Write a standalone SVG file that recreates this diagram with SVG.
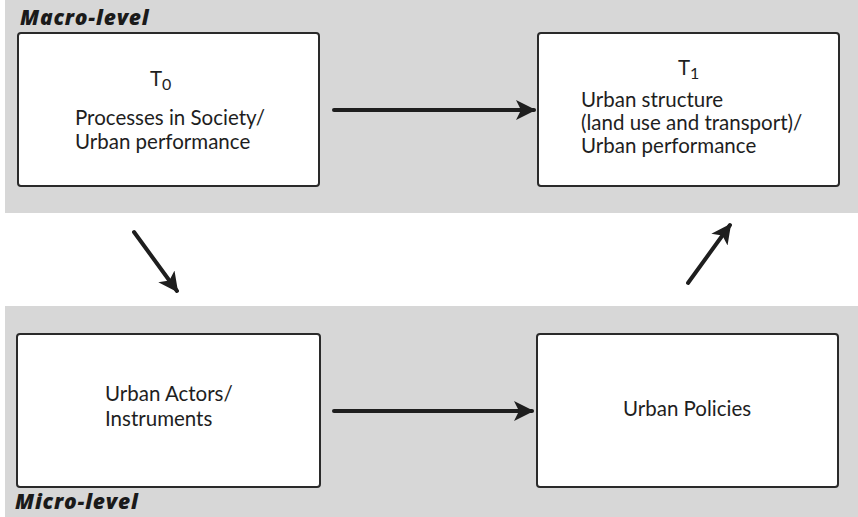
<svg xmlns="http://www.w3.org/2000/svg" width="858" height="517" viewBox="0 0 858 517">
<defs>
<style>
.band{fill:#d7d7d7}
.box{fill:#ffffff;stroke:#2a2a2a;stroke-width:2}
.t{font-family:Lato,"Open Sans",sans-serif;font-size:20.5px;fill:#1e1e1e}
.lvl{font-family:"Open Sans",Lato,sans-serif;font-size:21px;font-weight:800;font-style:italic;letter-spacing:0.8px;fill:#1a1a1a}
.arr{stroke:#1e1e1e;stroke-width:4;fill:none;stroke-linecap:round;marker-end:url(#ah)}
</style>
<marker id="ah" viewBox="0 0 10 10" refX="9" refY="5" markerWidth="5" markerHeight="5" orient="auto" markerUnits="strokeWidth">
<path d="M0,0 L10,5 L0,10 L2.5,5 Z" fill="#1e1e1e"/>
</marker>
</defs>
<rect width="858" height="517" fill="#ffffff"/>
<rect class="band" x="5" y="0" width="853" height="213"/>
<rect class="band" x="5" y="306" width="853" height="211"/>
<text class="lvl" x="20" y="25">Macro-level</text>
<text class="lvl" x="15" y="509">Micro-level</text>
<g id="processes">
<rect class="box" x="18" y="33" width="301" height="153" rx="3"/>
<text class="t" x="150" y="86">T<tspan font-size="16" dy="4">0</tspan></text>
<text class="t" x="75" y="125">Processes in Society/</text>
<text class="t" x="75" y="149">Urban performance</text>
</g>
<g id="structure">
<rect class="box" x="538" y="33" width="301" height="153" rx="3"/>
<text class="t" x="678" y="75">T<tspan font-size="16" dy="4">1</tspan></text>
<text class="t" x="581" y="107">Urban structure</text>
<text class="t" x="581" y="130">(land use and transport)/</text>
<text class="t" x="581" y="153">Urban performance</text>
</g>
<g id="actors">
<rect class="box" x="17" y="334" width="303" height="153" rx="3"/>
<text class="t" x="105" y="401">Urban Actors/</text>
<text class="t" x="105" y="426">Instruments</text>
</g>
<g id="policies">
<rect class="box" x="537" y="334" width="301" height="153" rx="3"/>
<text class="t" x="623" y="416">Urban Policies</text>
</g>
<g id="connectors">
<line class="arr" x1="334" y1="110" x2="534" y2="110"/>
<line class="arr" x1="334" y1="411" x2="532" y2="411"/>
<line class="arr" x1="134" y1="232" x2="177" y2="291"/>
<line class="arr" x1="688" y1="283" x2="730" y2="225"/>
</g>
</svg>
